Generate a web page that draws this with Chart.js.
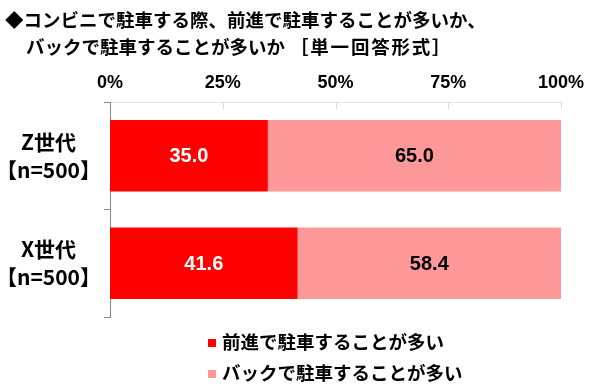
<!DOCTYPE html>
<html>
<head>
<meta charset="utf-8">
<script src="https://cdn.jsdelivr.net/npm/chart.js@4"></script>
<style>
    body { margin: 0; background: #fff; }
    #wrap { position: relative; width: 600px; height: 388px; }
    #chart { position: absolute; left: 0; top: 0; }
    .title {
        position: absolute;
        font-family: "Noto Sans CJK JP", sans-serif;
        font-weight: bold;
        font-size: 18.5px;
        line-height: 27px;
        color: #000;
        white-space: pre;
    }
    .title .form { margin-left: 5px; letter-spacing: 1.8px; }
    #legend {
        position: absolute;
        left: 208px;
        top: 326px;
        font-family: "Noto Sans CJK JP", sans-serif;
        font-weight: bold;
        font-size: 18.5px;
        line-height: 31px;
        color: #000;
    }
    #legend .item { white-space: nowrap; }
    #legend .box {
        display: inline-block;
        width: 8px;
        height: 8px;
        margin-right: 6px;
        vertical-align: 2px;
    }
</style>
</head>
<body>
<div id="wrap">
    <canvas id="chart" width="600" height="388"></canvas>
    <div class="title" style="left:5px; top:6px;">◆コンビニで駐車する際、前進で駐車することが多いか、</div>
    <div class="title" style="left:26px; top:33px;">バックで駐車することが多いか<span class="form">［単一回答形式］</span></div>
    <div id="legend"></div>
</div>

<script>
// ===============================
// VERİ
// ===============================

const categories = [["Z世代", "【n=500】"], ["X世代", "【n=500】"]];
const seriesNames = ["前進で駐車することが多い", "バックで駐車することが多い"];
const forwardValues = [35.0, 41.6];
const backValues = [65.0, 58.4];
const tickValues = [0, 25, 50, 75, 100];

const seriesColors = ["#ff0000", "#ff9999"];
const labelColors = ["#ffffff", "#000000"];

// x ekseninin üst çizgisinden aşağı doğru kısa çentikler
const topNotches = {
    id: "topNotches",
    afterDraw: function (chart) {
        const ctx = chart.ctx;
        const x = chart.scales.x;
        const top = chart.chartArea.top;
        ctx.save();
        ctx.strokeStyle = "#dcdcdc";
        ctx.lineWidth = 1;
        tickValues.slice(1).forEach(function (v) {
            const px = Math.round(x.getPixelForValue(v)) + 0.5;
            ctx.beginPath();
            ctx.moveTo(px, top);
            ctx.lineTo(px, top + 7);
            ctx.stroke();
        });
        ctx.restore();
    }
};

// bar içi değer etiketleri
const barValues = {
    id: "barValues",
    afterDatasetsDraw: function (chart) {
        const ctx = chart.ctx;
        ctx.save();
        ctx.font = "bold 20px 'Liberation Sans', Arial, sans-serif";
        ctx.textAlign = "center";
        ctx.textBaseline = "middle";
        chart.data.datasets.forEach(function (ds, i) {
            chart.getDatasetMeta(i).data.forEach(function (bar, j) {
                const p = bar.getProps(["x", "y", "base"], true);
                ctx.fillStyle = labelColors[i];
                ctx.fillText(ds.data[j].toFixed(1), (p.x + p.base) / 2, p.y + 1);
            });
        });
        ctx.restore();
    }
};

const chart = new Chart(document.getElementById("chart"), {
    type: "bar",
    data: {
        labels: categories,
        datasets: [
            {
                label: seriesNames[0],
                data: forwardValues,
                backgroundColor: seriesColors[0],
                barPercentage: 0.665,
                categoryPercentage: 1
            },
            {
                label: seriesNames[1],
                data: backValues,
                backgroundColor: seriesColors[1],
                barPercentage: 0.665,
                categoryPercentage: 1
            }
        ]
    },
    options: {
        indexAxis: "y",
        responsive: false,
        animation: false,
        layout: {
            padding: { left: 0, top: 0, right: 39, bottom: 71 }
        },
        plugins: {
            legend: { display: false },
            tooltip: { enabled: false }
        },
        scales: {
            x: {
                position: "top",
                stacked: true,
                min: 0,
                max: 100,
                afterBuildTicks: function (axis) {
                    axis.ticks = tickValues.map(function (v) { return { value: v }; });
                },
                afterFit: function (axis) {
                    axis.height = 102;
                },
                ticks: {
                    padding: 0,
                    color: "#000",
                    font: { family: "'Liberation Sans', Arial, sans-serif", size: 18, weight: "bold" },
                    callback: function (value) {
                        return value + "%";
                    }
                },
                grid: {
                    display: false
                },
                border: {
                    color: "#e4e4e4"
                }
            },
            y: {
                stacked: true,
                afterFit: function (axis) {
                    axis.width = 110;
                },
                ticks: {
                    crossAlign: "center",
                    padding: 3,
                    color: "#000",
                    font: { family: "'Noto Sans CJK JP', sans-serif", size: 21, weight: "bold", lineHeight: 1.33 }
                },
                grid: {
                    offset: true,
                    drawOnChartArea: false,
                    tickLength: 6,
                    color: "#888"
                },
                border: {
                    color: "#888"
                }
            }
        }
    },
    plugins: [topNotches, barValues]
});

// legend
const legend = document.getElementById("legend");
seriesNames.forEach(function (name, i) {
    const item = document.createElement("div");
    item.className = "item";
    const box = document.createElement("span");
    box.className = "box";
    box.style.background = seriesColors[i];
    item.appendChild(box);
    item.appendChild(document.createTextNode(name));
    legend.appendChild(item);
});
</script>
</body>
</html>
